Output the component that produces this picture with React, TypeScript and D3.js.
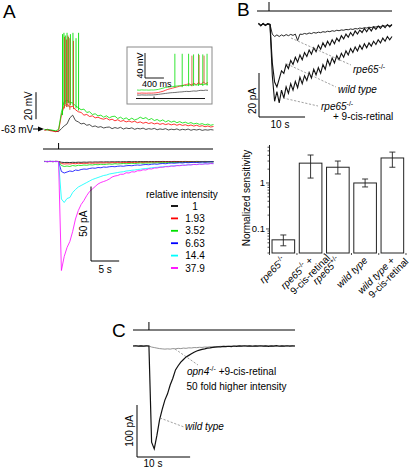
import React from 'react';
import * as d3 from 'd3';

const FONT = "'Liberation Sans', Arial, Helvetica, sans-serif";

// ---------------- Panel A: voltage (mV), sampled every 0.5 s from -2.5 s (stimulus at 0 s)
const tA = d3.range(61).map(i => -2.5 + 0.5 * i);
const vBlack = [-63, -62.5, -63.2, -63.5, -64, -64.2, -62, -60, -58.5, -54, -52, -56, -57, -58.5, -58, -59.5, -59, -60.5, -60, -61, -60.5, -61.5, -61, -60.8, -62, -61.2, -61.8, -61, -62.3, -61.5, -62, -61.4, -62.5, -61.8, -62.2, -61.6, -62.6, -62, -62.4, -61.8, -62.8, -62.2, -62.6, -62, -63, -62.4, -62.8, -62.2, -63.1, -62.5, -62.9, -62.3, -63.2, -62.6, -63, -62.5, -63.3, -62.8, -63.1, -62.7, -63];
const vRed = [-63.2, -62.8, -63.5, -63.8, -64.3, -63.5, -52, -45, -44, -46, -45.5, -48, -49.5, -50, -52, -51.5, -53, -52.5, -54, -53.5, -54.5, -55, -54.2, -55.6, -55, -56.2, -55.4, -56.6, -56, -57, -56.3, -57.2, -56.5, -57.6, -57, -58, -57.3, -58.2, -57.6, -58.5, -57.9, -58.8, -58.2, -59, -58.4, -59.2, -58.6, -59.5, -58.8, -59.6, -59.1, -59.9, -59.3, -60.1, -59.5, -60.3, -59.8, -60.6, -60, -60.8, -60.4];
const vGreen = [-62.5, -63, -62.8, -63.2, -63.6, -62.5, -50, -42, -41, -42.5, -43, -45, -46.5, -48, -47.5, -50, -49.5, -51.5, -51, -52.5, -52, -53.5, -52.5, -54, -53, -52.8, -54.5, -53.5, -55, -54, -55.5, -54.2, -55.6, -54.8, -53.5, -54.6, -53.8, -55.5, -54.5, -56, -55.2, -56.5, -55.5, -57, -56, -57.2, -56.4, -57.6, -56.8, -57.8, -57.2, -58.2, -57.5, -58.5, -58, -58.8, -58.3, -59.2, -58.6, -59.5, -59];
const greenSpikeT = [0.7, 0.95, 1.2, 1.5, 1.75, 2.1, 2.55, 3.1, 3.55];
const greenSpikePeak = [8, 9, 7, 9, 6, 8, 9, 5, 9];
const redSpikeT = [1.05, 1.4, 1.65, 2.0, 2.65];
const redSpikePeak = [6, 4, 7, 5, 3];

// Panel A: photocurrents (pA), same sampling
const iBlack = [0.1, -0.2, 0.2, -0.1, 0.1, 0, -1.5, -2, -1.8, -2.2, -1.6, -1.9, -1.4, -1.7, -1.2, -1.5, -1, -1.3, -0.9, -1.1, -0.7, -1, -0.6, -0.9, -0.5, -0.8, -0.4, -0.7, -0.3, -0.6, -0.2, -0.5, -0.2, -0.4, -0.1, -0.3, -0.1, -0.3, 0, -0.2, 0, -0.2, 0.1, -0.1, 0, -0.2, 0.1, -0.1, 0, -0.1, 0.1, -0.1, 0, -0.2, 0.1, 0, -0.1, 0.1, -0.1, 0, 0];
const iRed = [0.2, -0.3, 0.1, -0.2, 0.3, 0, -4, -5, -4.5, -5, -4, -4.5, -3.5, -4, -3.5, -3.8, -3, -3.5, -3, -3.2, -2.6, -3, -2.5, -2.8, -2.3, -2.6, -2.2, -2.5, -2, -2.3, -1.9, -2.1, -1.8, -2, -1.6, -1.9, -1.5, -1.7, -1.4, -1.6, -1.2, -1.5, -1.1, -1.3, -1, -1.2, -0.9, -1.1, -0.8, -1, -0.7, -0.9, -0.6, -0.8, -0.5, -0.7, -0.4, -0.6, -0.3, -0.5, -0.3];
const iGreen = [0.3, -0.2, 0.2, -0.4, 0.3, 0, -8, -10, -9, -10, -8, -9, -7.5, -8, -7, -7.5, -6.5, -7, -6, -6.5, -5.5, -6, -5.5, -5, -5.5, -4.5, -5, -4.5, -4, -4.5, -4, -3.5, -4, -3.5, -3, -3.5, -3, -3.2, -2.8, -3, -2.5, -2.8, -2.3, -2.5, -2, -2.3, -1.8, -2, -1.6, -1.8, -1.4, -1.6, -1.2, -1.4, -1, -1.2, -0.8, -1, -0.7, -0.9, -0.6];
const iBlue = [-0.3, 0.3, -0.2, 0.4, -0.3, 0, -20, -23, -21, -19, -20, -17, -18, -16, -15, -15.5, -14, -13, -13.5, -12, -12.5, -11, -11.5, -10.5, -10, -10.5, -9.5, -9, -9.5, -8.5, -8, -8.5, -7.5, -7, -7.5, -6.5, -6, -6.5, -5.5, -5, -5.5, -4.5, -4, -4.5, -3.5, -3, -3.5, -3, -2.5, -3, -2, -2.5, -2, -1.5, -2, -1.5, -1, -1.5, -1, -0.5, -1];
const iCyan = [0.2, -0.3, 0.4, -0.2, 0.1, 0, -75, -82, -74, -72, -62, -56, -51, -48, -45, -42, -39, -36, -34, -32, -30, -28, -27, -25, -24, -23, -22, -21, -20.5, -19, -18.5, -17.5, -17, -16, -15.5, -14.5, -14, -13.5, -12.5, -12, -11.5, -11, -10.5, -10, -9.5, -9, -8.5, -8.2, -7.8, -7.5, -7, -6.8, -6.3, -6, -5.8, -5.4, -5.1, -4.8, -4.5, -4.2, -4];
const iMagenta = [0.4, -0.5, 0.3, -0.3, 0.2, 0, -218, -190, -172, -160, -140, -115, -98, -86, -78, -68, -60, -55, -50, -45, -42, -40, -38, -35, -31, -29, -28, -25.5, -25.5, -22.5, -23, -20.5, -21, -18.5, -18.5, -16.5, -17, -14.5, -15, -13, -13, -11.5, -11.5, -10.3, -10.5, -9, -9.5, -8.2, -8.5, -7.3, -7.7, -6.5, -7, -5.7, -6.3, -5, -5.7, -4.5, -5.1, -4, -4.5];
const intensityLabels = ['1', '1.93', '3.52', '6.63', '14.4', '37.9'];
const intensityColors = ['#000000', '#ff0000', '#00e000', '#0000ff', '#00ffff', '#ff00ff'];

// Inset (ms, every 50 ms)
const tIn = d3.range(31).map(i => 50 * i);
const insBlack = [-63, -63.2, -62.8, -63, -63.1, -62.9, -63, -62.8, -62.5, -62, -61.5, -61, -60.5, -60, -59.5, -59.2, -59, -58.6, -58.2, -58, -57.5, -57.2, -57.5, -57, -56.5, -56.8, -56, -55.5, -55.8, -55.2, -55.5];
const insRed = [-60, -60.2, -59.8, -60, -60.1, -59.9, -60, -59.8, -59.5, -59, -58, -57, -55.5, -54, -53, -52, -51, -50, -49, -48, -47, -46, -45, -47, -44, -46.5, -43, -46, -42.5, -45, -43];
const insGreen = [-55, -55.3, -54.8, -55.1, -55, -55.2, -54.9, -55, -54.6, -54, -53, -52, -51, -50.5, -50, -49.5, -49, -48.5, -48, -48.5, -47.5, -48, -47, -47.5, -46.5, -47, -46.5, -46, -46.5, -45.5, -46];
const insGreenSpikeT = [800, 955, 1090, 1195, 1300, 1390, 1480];
const insGreenSpikePeak = [3, 3, 3, 2, 3, 2, 3];
const insRedSpikeT = [1160, 1312, 1417];
const insRedSpikePeak = [0, 1, 0];

// ---------------- Panel B traces (pA, every 0.5 s from -2.5 s)
const tB = d3.range(59).map(i => -2.5 + 0.5 * i);
const bWildType = [0.8, -0.8, 0.6, -0.6, 0.5, 0, -24, -36, -39, -34, -29, -30.5, -25, -27.5, -22.5, -25, -20.5, -23.5, -19, -22, -17.5, -20, -16, -18.5, -14.5, -17, -13, -15.5, -11.5, -14, -10.5, -13, -9.5, -12, -8.5, -10.5, -7, -9, -6, -8, -5, -7, -4, -6, -3.5, -5, -2.5, -4.5, -2, -4, -1.5, -3, -1, -2.5, -0.5, -2, 0, -1.5, 0];
const bRpe9cis = [0.6, -0.8, 0.7, -0.5, 0.4, 0, -32, -48, -42, -49, -41, -46, -39, -43, -37, -41, -35.5, -39.5, -33, -37, -32, -35, -30, -33.5, -28, -31.5, -27, -30.5, -25, -28, -22, -25.5, -21, -24, -19.5, -22, -18, -20.5, -16.5, -19, -15, -17.5, -14, -16.5, -13, -15.5, -12, -14.5, -11.5, -13.5, -10.5, -12.5, -9.5, -11.5, -8.5, -10.5, -7.5, -9.5, -7.5];
const bRpe = [0.3, -0.3, 0.4, -0.2, 0.2, 0, -6, -7.5, -6.5, -7.5, -6.5, -7.2, -6.3, -7, -6.2, -6.8, -6, -10, -6, -6.2, -5.6, -6, -5.3, -5.7, -5, -5.4, -4.8, -5.1, -4.5, -4.8, -4.2, -4.5, -3.9, -4.2, -3.6, -3.9, -3.4, -3.6, -3.1, -3.3, -2.8, -3.1, -2.5, -2.8, -2.2, -2.5, -2, -2.2, -1.7, -1.9, -1.4, -1.6, -1.1, -1.3, -0.8, -1, -0.5, -0.7, -0.3];

// Panel B bar chart
const genotypes = ['rpe65-/-', 'rpe65-/- + 9-cis-retinal', 'rpe65+/-', 'wild type', 'wild type + 9-cis-retinal'];
const sensitivity = [0.058, 2.7, 2.2, 1.0, 3.5];
const sensLow = [0.043, 1.28, 1.57, 0.82, 2.2];
const sensHigh = [0.074, 4.06, 3.0, 1.22, 4.7];

// ---------------- Panel C traces (pA, every 0.5 s from -3 s)
const tC = d3.range(62).map(i => -3 + 0.5 * i);
const cWildType = [0, 0.5, -0.3, 0.4, -0.2, 0.3, 0, -185, -198, -172, -142, -122, -104, -92, -75, -62, -46, -38, -31, -26, -21, -18, -15, -12, -9.5, -8, -6.5, -5.5, -4, -3.5, -2.5, -2, -1.5, -1.8, -0.8, -1.2, -0.5, -1, 0, -0.6, 0.3, -0.4, 0.5, -0.3, 0.2, -0.5, 0.4, -0.2, 0.5, -0.4, 0.3, -0.6, 0.4, -0.2, 0.6, -0.5, 0.2, -0.3, 0.5, -0.4, 0.3, 0];
const cOpn4 = [0, 0.3, -0.2, 0.4, -0.3, 0.2, 0, -2, -3, -4, -5, -5.5, -6, -5.5, -6, -5, -5.5, -4.5, -5, -4, -4.5, -3.5, -3.8, -3, -3.2, -2.5, -2.8, -2, -2.2, -1.5, -1.8, -1, -1.2, -0.6, -0.9, -0.3, -0.6, 0, -0.4, 0.2, -0.2, 0.3, -0.3, 0.2, -0.1, 0.3, -0.2, 0.4, -0.3, 0.2, -0.2, 0.3, -0.4, 0.2, 0, 0.3, -0.3, 0.2, -0.1, 0.3, -0.2, 0];

type Scale = (v: number) => number;
const trace = (xs: Scale, ys: Scale, t: number[], v: number[]) =>
  d3.line<number>().x((_, i) => xs(t[i])).y(d => ys(d))(v) || '';
const spikes = (xs: Scale, ys: Scale, t: number[], v: number[], st: number[], sp: number[]) =>
  st.map((s, k) => {
    const idx = d3.minIndex(t, tt => Math.abs(tt - s));
    return `M${xs(s)},${ys(v[idx] - 2)}L${xs(s)},${ys(sp[k])}`;
  }).join('');

function Sup({ children }: { children: React.ReactNode }) {
  return <tspan dy={-4} fontSize={7}>{children}</tspan>;
}

export default function App() {
  // Panel A scales
  const xA = d3.scaleLinear().domain([-2.5, 27.5]).range([44.5, 213.5]);
  const yV = d3.scaleLinear().domain([-63, 9]).range([130, 32.8]);
  const yI = d3.scaleLinear().domain([0, -218]).range([161.5, 270.5]);
  const xIn = d3.scaleLinear().domain([0, 1500]).range([137, 208]);
  const yIn = d3.scaleLinear().domain([-63, 2]).range([95, 54.4]);
  // Panel B
  const xB = d3.scaleLinear().domain([-2.5, 26.5]).range([258.5, 392]);
  const yB = d3.scaleLinear().domain([0, -47.5]).range([24.5, 100.5]);
  const yS = d3.scaleLog().domain([0.03, 6.7]).range([253, 145]);
  const xS = d3.scaleBand<number>().domain(d3.range(genotypes.length)).range([269.3, 406.4]).paddingInner(0.17).paddingOuter(0.1);
  // Panel C
  const xC = d3.scaleLinear().domain([-3, 27.5]).range([133, 295]);
  const yC = d3.scaleLinear().domain([0, -200]).range([346, 450]);

  const currents = [iBlack, iRed, iGreen, iBlue, iCyan, iMagenta];
  const bw = xS.bandwidth();
  const logTicks = yS.ticks();

  const label = (i: number) => {
    const cx = (xS(i) as number) + bw / 2;
    const tr = `translate(${cx + 3},261) rotate(-45)`;
    const it = { fontStyle: 'italic' as const };
    const lines: React.ReactNode[][] = [
      [[<tspan key="a" {...it}>rpe65</tspan>, <Sup key="b">-/-</Sup>]],
      [[<tspan key="a" {...it}>rpe65</tspan>, <Sup key="b">-/-</Sup>, <tspan key="c" dy={4}> +</tspan>], ['9-cis-retinal']],
      [[<tspan key="a" {...it}>rpe65</tspan>, <Sup key="b">+/-</Sup>]],
      [[<tspan key="a" {...it}>wild type</tspan>]],
      [[<tspan key="a" {...it}>wild type</tspan>, <tspan key="c"> +</tspan>], ['9-cis-retinal']],
    ];
    const extra = [0, 14, 0, 0, 9];
    return (
      <g key={i} transform={tr}>
        {lines[i].map((ln, k) => (
          <text key={k} x={k * extra[i]} y={k * 10.5} textAnchor="end" fontSize={10}>{ln}</text>
        ))}
      </g>
    );
  };

  const leader = { stroke: '#777', strokeWidth: 0.7, strokeDasharray: '2.2,1.6', fill: 'none' };

  return (
    <svg width={410} height={476} style={{ position: 'absolute', left: 0, top: 0, background: '#fff' }} fontFamily={FONT}>
      {/* ================= Panel A ================= */}
      <text x={3} y={17.5} fontSize={19}>A</text>
      {/* voltage traces */}
      <path d={trace(xA, yV, tA, vBlack)} fill="none" stroke="#222" strokeWidth={0.8} />
      <path d={trace(xA, yV, tA, vRed)} fill="none" stroke="#ff0000" strokeWidth={0.8} />
      <path d={trace(xA, yV, tA, vGreen)} fill="none" stroke="#00e000" strokeWidth={0.8} />
      <path d={spikes(xA, yV, tA, vGreen, greenSpikeT, greenSpikePeak)} fill="none" stroke="#00e000" strokeWidth={0.9} />
      <path d={spikes(xA, yV, tA, vRed, redSpikeT, redSpikePeak)} fill="none" stroke="#c8501e" strokeWidth={0.9} />
      {/* 20 mV scale bar */}
      <line x1={36} x2={36} y1={yV(-55)} y2={yV(-35)} stroke="#000" strokeWidth={1} />
      <text transform={`translate(32,${(yV(-55) + yV(-35)) / 2}) rotate(-90)`} textAnchor="middle" fontSize={10}>20 mV</text>
      {/* -63 mV marker */}
      <text x={1} y={yV(-63) + 2.5} fontSize={10}>-63 mV</text>
      <line x1={33} x2={40} y1={yV(-63) - 1} y2={yV(-63) - 1} stroke="#000" strokeWidth={1} />
      <path d={`M38,${yV(-63) - 3.5}L44,${yV(-63) - 1}L38,${yV(-63) + 1.5}Z`} fill="#000" />
      {/* stimulus */}
      <line x1={43} x2={213} y1={149} y2={149} stroke="#000" strokeWidth={1} />
      <line x1={xA(0)} x2={xA(0)} y1={143} y2={149} stroke="#000" strokeWidth={1} />
      {/* currents */}
      {currents.map((c, k) => (
        <path key={k} d={trace(xA, yI, tA, c)} fill="none" stroke={intensityColors[k]} strokeWidth={0.8} />
      ))}
      {/* 50 pA / 5 s scale bar */}
      <path d={`M91,${yI(-50) + 0}L91,261L${91 + xA(5) - xA(0)},261`} fill="none" stroke="#000" strokeWidth={1} />
      <text transform={`translate(87,${(yI(-50) + 261) / 2 + 0}) rotate(-90)`} textAnchor="middle" fontSize={10}>50 pA</text>
      <text x={91 + (xA(5) - xA(0)) / 2} y={272.5} textAnchor="middle" fontSize={10}>5 s</text>
      {/* legend */}
      <text x={146} y={197.5} fontSize={10}>relative intensity</text>
      {intensityLabels.map((l, k) => (
        <g key={l}>
          <line x1={171} x2={178} y1={206 + k * 12.4} y2={206 + k * 12.4} stroke={intensityColors[k]} strokeWidth={1.8} />
          <text x={195} y={209.5 + k * 12.4} textAnchor="middle" fontSize={10}>{l}</text>
        </g>
      ))}
      {/* inset */}
      <rect x={127} y={47} width={85} height={57} fill="#fff" stroke="#8a8a8a" strokeWidth={1} />
      <path d={trace(xIn, yIn, tIn, insBlack)} fill="none" stroke="#333" strokeWidth={0.7} />
      <path d={trace(xIn, yIn, tIn, insRed)} fill="none" stroke="#ff0000" strokeWidth={0.7} />
      <path d={trace(xIn, yIn, tIn, insGreen)} fill="none" stroke="#00e000" strokeWidth={0.7} />
      <path d={spikes(xIn, yIn, tIn, insGreen, insGreenSpikeT, insGreenSpikePeak)} fill="none" stroke="#00e000" strokeWidth={0.8} />
      <path d={spikes(xIn, yIn, tIn, insRed, insRedSpikeT, insRedSpikePeak)} fill="none" stroke="#c8501e" strokeWidth={0.8} />
      <path d={`M145,53L145,78L${145 + xIn(400) - xIn(0)},78`} fill="none" stroke="#000" strokeWidth={0.9} />
      <text transform="translate(143,65.5) rotate(-90)" textAnchor="middle" fontSize={9}>40 mV</text>
      <text x={142} y={87} fontSize={9}>400 ms</text>
      <line x1={136} x2={205} y1={98.5} y2={98.5} stroke="#000" strokeWidth={0.9} />
      <line x1={xIn(360)} x2={xIn(360)} y1={96.5} y2={98.5} stroke="#000" strokeWidth={0.9} />

      {/* ================= Panel B ================= */}
      <text x={237} y={16} fontSize={19}>B</text>
      <line x1={257} x2={392} y1={11} y2={11} stroke="#000" strokeWidth={1} />
      <line x1={xB(0) - 1} x2={xB(0) - 1} y1={2} y2={11} stroke="#000" strokeWidth={1} />
      <path d={trace(xB, yB, tB, bRpe)} fill="none" stroke="#111" strokeWidth={0.9} />
      <path d={trace(xB, yB, tB, bWildType)} fill="none" stroke="#111" strokeWidth={1.1} />
      <path d={trace(xB, yB, tB, bRpe9cis)} fill="none" stroke="#111" strokeWidth={1.1} />
      <path d="M291,38L351,65" {...leader} />
      <path d="M287,64L336,87" {...leader} />
      <path d="M283,98L318,106" {...leader} />
      <text x={353} y={73} fontSize={10}><tspan fontStyle="italic">rpe65</tspan><Sup>-/-</Sup></text>
      <text x={338} y={92.5} fontSize={10} fontStyle="italic">wild type</text>
      <text x={321} y={110} fontSize={10}><tspan fontStyle="italic">rpe65</tspan><Sup>-/-</Sup></text>
      <text x={333} y={119.5} fontSize={10}>+ 9-cis-retinal</text>
      <path d={`M259,${yB(-20) + 16.5}L259,117L${259 + xB(10) - xB(0)},117`} fill="none" stroke="#000" strokeWidth={1} />
      <text transform={`translate(256,${117 - (yB(-20) - yB(0)) / 2}) rotate(-90)`} textAnchor="middle" fontSize={10}>20 pA</text>
      <text x={280} y={128} textAnchor="middle" fontSize={10}>10 s</text>

      {/* bar chart */}
      {sensitivity.map((v, i) => (
        <rect key={i} x={xS(i)} y={yS(v)} width={bw} height={253 - yS(v)} fill="#fff" stroke="#222" strokeWidth={1} />
      ))}
      {sensitivity.map((_, i) => {
        const cx = (xS(i) as number) + bw / 2;
        return (
          <path key={i} d={`M${cx - 3},${yS(sensHigh[i])}H${cx + 3}M${cx},${yS(sensHigh[i])}V${yS(sensLow[i])}M${cx - 3},${yS(sensLow[i])}H${cx + 3}`} fill="none" stroke="#222" strokeWidth={0.9} />
        );
      })}
      <line x1={269.5} x2={269.5} y1={145} y2={253} stroke="#222" strokeWidth={1} />
      {logTicks.map(t => {
        const major = Math.abs(Math.log10(t) - Math.round(Math.log10(t))) < 1e-9;
        return <line key={t} x1={major ? 266 : 267.5} x2={269.5} y1={yS(t)} y2={yS(t)} stroke="#222" strokeWidth={0.8} />;
      })}
      <text x={265} y={yS(1) + 3.5} textAnchor="end" fontSize={9.5}>1</text>
      <text x={265} y={yS(0.1) + 3.5} textAnchor="end" fontSize={9.5}>0.1</text>
      <text transform={`translate(250,198) rotate(-90)`} textAnchor="middle" fontSize={10}>Normalized sensitivity</text>
      {d3.range(genotypes.length + 1).map(i => {
        const xb = i === 0 ? 269.5 : (xS(i - 1) as number) + bw + (xS.step() - bw) / 2;
        return <line key={i} x1={xb} x2={xb} y1={253} y2={255} stroke="#222" strokeWidth={0.8} />;
      })}
      {genotypes.map((_, i) => label(i))}

      {/* ================= Panel C ================= */}
      <text x={112} y={337} fontSize={19}>C</text>
      <line x1={133} x2={295} y1={330} y2={330} stroke="#000" strokeWidth={1} />
      <line x1={xC(0)} x2={xC(0)} y1={322} y2={330} stroke="#000" strokeWidth={1} />
      <path d={trace(xC, yC, tC, cOpn4)} fill="none" stroke="#777" strokeWidth={0.8} />
      <path d={trace(xC, yC, tC, cWildType)} fill="none" stroke="#111" strokeWidth={1.2} />
      <path d="M175,349L198,365" {...leader} />
      <path d="M160,418L184,427" {...leader} />
      <text x={187} y={374.5} fontSize={10}><tspan fontStyle="italic">opn4</tspan><Sup>-/-</Sup><tspan dy={4}> +9-cis-retinal</tspan></text>
      <text x={186.5} y={390} fontSize={10}>50 fold higher intensity</text>
      <text x={185} y={429.5} fontSize={10} fontStyle="italic">wild type</text>
      <path d={`M137,${457 - (yC(-100) - yC(0))}L137,457L${137 + xC(10) - xC(0)},457`} fill="none" stroke="#000" strokeWidth={1} />
      <text transform={`translate(133,${457 - (yC(-100) - yC(0)) / 2}) rotate(-90)`} textAnchor="middle" fontSize={10}>100 pA</text>
      <text x={153} y={467} textAnchor="middle" fontSize={10}>10 s</text>
    </svg>
  );
}
